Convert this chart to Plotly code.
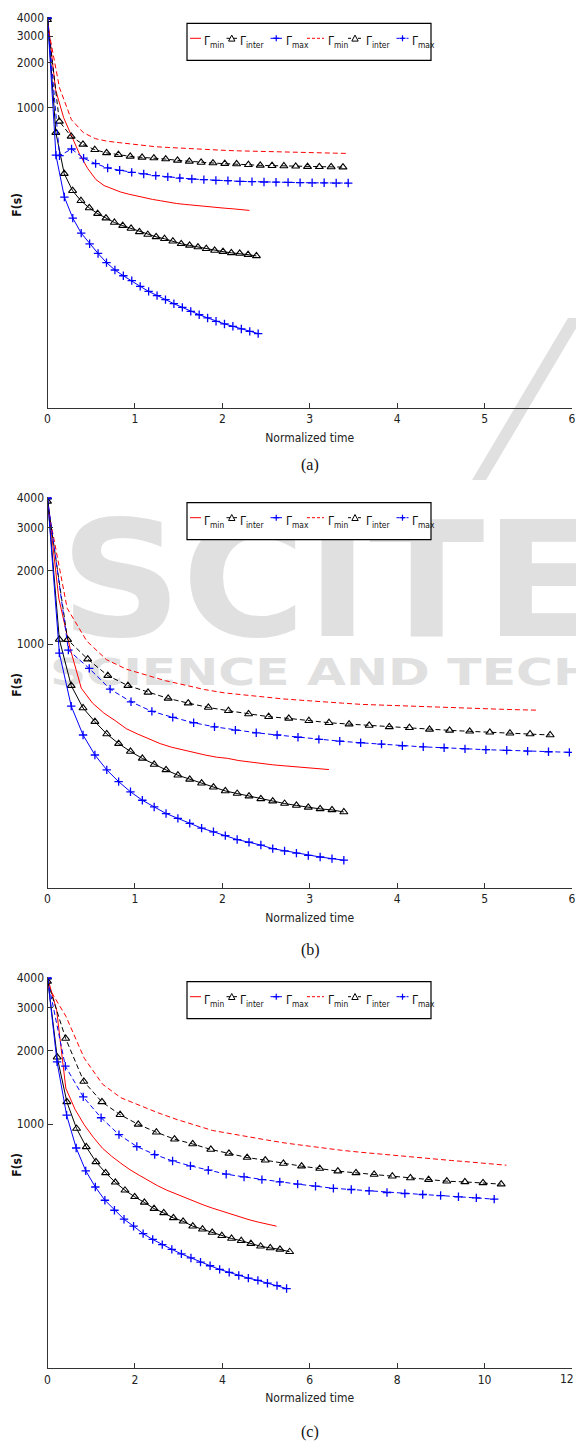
import base64
import numpy as np
import plotly.graph_objects as go

W, H = 576, 1447
N_POINTS = 26

# ---------------- data ----------------
# order of series in every panel: solid Γmin, solid Γinter, solid Γmax, dashed Γmin, dashed Γinter, dashed Γmax
a_min_solid = [4000, 1318, 858, 641, 486, 392, 332, 303, 287, 275, 266, 258, 252, 245, 240, 234, 230, 227, 224, 221, 218, 216, 214, 212, 209, 207]
a_inter_solid = [4000, 682, 364, 280, 240, 215, 197, 184, 172, 164, 157, 149, 143, 138, 134, 129, 124, 121, 118, 115, 112, 110, 108, 107, 105, 103]
a_max_solid = [4000, 483, 254, 184, 146, 124, 107, 93, 83, 76, 70.5, 64.6, 59.8, 56, 52.7, 49.5, 46.8, 44, 41.8, 39.8, 37.8, 36.3, 35, 33.6, 32.4, 31.3]
a_min_dash = [3600, 1359, 832, 682, 622, 598, 585, 571, 563, 550, 544, 538, 532, 527, 523, 519, 516, 513, 510, 507, 505, 503, 501, 500, 498, 496]
a_inter_dash = [3850, 811, 644, 570, 525, 500, 487, 474, 467, 462, 455, 446, 439, 432, 428, 424, 422, 417, 413, 411, 409, 407, 405, 404, 403, 402]
a_max_dash = [3950, 479, 531, 461, 424, 397, 383, 371, 362, 353, 346, 340, 335, 332, 328, 327, 323, 322, 320, 319, 318, 317, 316, 316, 315, 315]
a_end = [2.31, 2.39, 2.41, 3.42, 3.38, 3.44]

b_min_solid = [4000, 1543, 963, 660, 573, 522, 486, 450, 428, 408, 391, 378, 368, 358, 351, 344, 340, 333, 328, 324, 320, 317, 314, 311, 309, 306]
b_inter_solid = [4000, 1045, 676, 547, 481, 428, 391, 363, 340, 321, 305, 290, 279, 269, 259, 250, 244, 238, 232, 227, 222, 218, 214, 211, 209, 205]
b_max_solid = [4000, 919, 557, 424, 351, 305, 273, 248, 229, 215, 202, 193, 184, 176, 170, 164, 158, 154, 150, 145, 142, 139, 136, 134, 132, 130]
b_min_dash = [3700, 1404, 1029, 864, 790, 746, 708, 679, 651, 631, 618, 606, 596, 588, 579, 573, 566, 562, 558, 553, 549, 546, 543, 541, 538, 536]
b_inter_dash = [3850, 1043, 868, 743, 676, 634, 599, 573, 550, 533, 517, 504, 496, 485, 476, 470, 464, 458, 454, 447, 443, 439, 435, 431, 428, 424]
b_max_dash = [3950, 945, 795, 654, 580, 530, 501, 476, 458, 444, 433, 424, 415, 407, 400, 394, 389, 383, 379, 376, 372, 369, 367, 364, 362, 360]
b_end = [3.22, 3.39, 3.39, 5.62, 5.75, 5.97]

c_min_solid = [4000, 2932, 1404, 1152, 995, 884, 797, 739, 692, 651, 618, 587, 560, 537, 518, 500, 484, 467, 453, 440, 428, 417, 406, 397, 389, 382]
c_inter_solid = [4000, 1882, 1234, 960, 807, 701, 632, 578, 536, 504, 478, 451, 433, 413, 400, 382, 371, 360, 349, 340, 333, 324, 316, 311, 307, 300]
c_max_solid = [4000, 1800, 1089, 799, 644, 553, 488, 444, 408, 382, 356, 337, 321, 307, 294, 283, 272, 263, 254, 247, 240, 234, 229, 223, 218, 212]
c_min_dash = [3700, 2771, 1865, 1458, 1283, 1196, 1115, 1048, 995, 942, 914, 885, 860, 836, 816, 799, 782, 768, 755, 743, 732, 722, 710, 700, 689, 679]
c_inter_dash = [3850, 2245, 1496, 1234, 1094, 998, 927, 868, 830, 788, 759, 730, 712, 690, 673, 658, 642, 632, 622, 612, 602, 593, 584, 580, 575, 568]
c_max_dash = [3950, 1729, 1294, 1063, 906, 810, 751, 707, 675, 648, 624, 608, 593, 580, 568, 557, 546, 540, 533, 525, 520, 515, 510, 504, 499, 493]
c_end = [5.24, 5.54, 5.47, 10.5, 10.38, 10.22]

x_max = [6, 6, 12]
x_dtick = [1, 1, 2]
y_ticks = [1000, 2000, 3000, 4000]
y_min = [10, 100, 100]
y_top = 4000
legend_names = ["min", "inter", "max", "min", "inter", "max"]
captions = ["(a)", "(b)", "(c)"]
x_title = "Normalized time"
y_title = "F(s)"

panels = [
    [a_min_solid, a_inter_solid, a_max_solid, a_min_dash, a_inter_dash, a_max_dash],
    [b_min_solid, b_inter_solid, b_max_solid, b_min_dash, b_inter_dash, b_max_dash],
    [c_min_solid, c_inter_solid, c_max_solid, c_min_dash, c_inter_dash, c_max_dash],
]
ends = [a_end, b_end, c_end]

# ---------------- styles ----------------
RED, BLACK, BLUE = "#ff0000", "#000000", "#0000ff"
DASH = "5px,3px"
styles = [
    dict(color=RED, dash="solid", symbol=None),
    dict(color=BLACK, dash="solid", symbol="triangle-up-open"),
    dict(color=BLUE, dash="solid", symbol="cross-thin-open"),
    dict(color=RED, dash=DASH, symbol=None),
    dict(color=BLACK, dash=DASH, symbol="triangle-up-open"),
    dict(color=BLUE, dash=DASH, symbol="cross-thin-open"),
]

# pixel layout of the three panels
x_left, x_right = 47.5, 572
panel_px = [(17.3, 408.0), (497.3, 888.0), (977.3, 1368.2)]
legend_top = [23.3, 502.7, 981.7]
caption_y = [465, 950, 1432]

def px(x):
    return x / W

def py(y):
    return 1 - y / H

FAMILY = "Liberation Sans Narrow, DejaVu Sans Condensed, Arial Narrow, sans-serif"
TICKFONT = dict(family=FAMILY, size=12, color="#222")

# light grey publisher watermark that sits behind the middle panel
WM = "#e0e0e0"
watermark_svg = (
    '<svg xmlns="http://www.w3.org/2000/svg" width="576" height="1447" viewBox="0 0 576 1447">'
    '<polygon points="568,318 582,318 486,480 472,480" fill="{c}"/>'
    '<text x="60" y="636" font-family="DejaVu Sans" font-weight="bold" font-size="160" fill="{c}" '
    'textLength="540" lengthAdjust="spacingAndGlyphs">SCITE</text>'
    '<text x="50" y="685" font-family="DejaVu Sans" font-weight="bold" font-size="38" fill="{c}" '
    'textLength="545" lengthAdjust="spacingAndGlyphs">SCIENCE AND TECH</text>'
    '</svg>'
).format(c=WM)
watermark_src = "data:image/svg+xml;base64," + base64.b64encode(watermark_svg.encode("utf-8")).decode("ascii")

fig = go.Figure()
layout = dict(
    width=W, height=H, margin=dict(l=0, r=0, t=0, b=0),
    paper_bgcolor="white", plot_bgcolor="rgba(0,0,0,0)", showlegend=False,
    images=[dict(source=watermark_src, xref="paper", yref="paper", x=0, y=1,
                 sizex=1, sizey=1, sizing="stretch", xanchor="left", yanchor="top",
                 layer="below", opacity=1)],
)
shapes, annotations = [], []

for p in range(3):
    sfx = "" if p == 0 else str(p + 1)
    xa, ya = "x" + sfx, "y" + sfx
    for i, vals in enumerate(panels[p]):
        st = styles[i]
        xs = np.linspace(0, ends[p][i], N_POINTS)
        mode = "lines+markers" if st["symbol"] else "lines"
        tr = dict(x=xs, y=vals, mode=mode, xaxis=xa, yaxis=ya,
                  line=dict(color=st["color"], width=1, dash=st["dash"]),
                  hoverinfo="skip")
        if st["symbol"]:
            tri = "triangle" in st["symbol"]
            tr["marker"] = dict(symbol=st["symbol"], size=7 if tri else 6,
                                color=st["color"], line=dict(color=st["color"], width=1.1 if tri else 1.3))
        fig.add_trace(go.Scatter(**tr))

    top, bot = panel_px[p]
    tickvals = list(range(0, x_max[p] + 1, x_dtick[p]))
    ticktext = [str(v) for v in tickvals]
    last_label = None
    if x_max[p] >= 10:
        # the two-digit end label is right-aligned so that it stays inside the page
        last_label = ticktext[-1]
        ticktext[-1] = ""
    layout["xaxis" + sfx] = dict(
        domain=[px(x_left), px(x_right)], anchor=ya, range=[0, x_max[p]],
        tickvals=tickvals, ticktext=ticktext, ticks="inside", ticklen=5, tickcolor="#333",
        showline=True, linecolor="#333", linewidth=1, showgrid=False, zeroline=False,
        tickfont=TICKFONT, automargin=False, ticklabeloverflow="allow",
        title=dict(text=x_title, font=TICKFONT, standoff=8),
    )
    if last_label:
        annotations.append(dict(xref=xa, yref="paper", x=x_max[p], y=py(bot + 11),
                                xanchor="right", yanchor="middle", xshift=4, showarrow=False,
                                text=last_label, font=TICKFONT))
    layout["yaxis" + sfx] = dict(
        domain=[py(bot), py(top)], anchor=xa, type="log",
        range=[np.log10(y_min[p]), np.log10(y_top)],
        tickvals=y_ticks, ticktext=[str(v) for v in y_ticks],
        ticks="inside", ticklen=5, tickcolor="#333",
        showline=True, linecolor="#333", linewidth=1, showgrid=False, zeroline=False,
        tickfont=TICKFONT, automargin=False, ticklabeloverflow="allow",
    )
    # y-axis title placed beside the tick labels
    annotations.append(dict(xref="paper", yref="paper", x=px(17), y=py((top + bot) / 2 - 8),
                            xanchor="center", yanchor="middle", showarrow=False, textangle=-90,
                            text="<b>" + y_title + "</b>",
                            font=dict(family=FAMILY, size=12, color="#111")))

    # custom legend box
    lt = legend_top[p]
    shapes.append(dict(type="rect", xref="paper", yref="paper",
                       x0=px(187), x1=px(431), y0=py(lt + 37), y1=py(lt),
                       line=dict(color="black", width=1.2), fillcolor="white", layer="above"))
    line_x = [(190, 201), (226.5, 237), (270.5, 282), (307, 324), (348, 362), (396.5, 408.5)]
    label_x = [201.5, 238, 284, 326, 364, 410]
    ly = lt + 15
    for i, st in enumerate(styles):
        x0, x1 = line_x[i]
        shapes.append(dict(type="line", xref="paper", yref="paper",
                           x0=px(x0), x1=px(x1), y0=py(ly), y1=py(ly),
                           line=dict(color=st["color"], width=1,
                                     dash="solid" if st["dash"] == "solid" else "3px,2px"),
                           layer="above"))
        cx = (x0 + x1) / 2
        if st["symbol"] and "triangle" in st["symbol"]:
            path = "M{},{} L{},{} L{},{} Z".format(px(cx - 3.2), py(ly + 2.8), px(cx + 3.2), py(ly + 2.8), px(cx), py(ly - 3.2))
            shapes.append(dict(type="path", xref="paper", yref="paper", path=path,
                               line=dict(color=st["color"], width=1), fillcolor="white", layer="above"))
        elif st["symbol"]:
            shapes.append(dict(type="line", xref="paper", yref="paper",
                               x0=px(cx - 3), x1=px(cx + 3), y0=py(ly), y1=py(ly),
                               line=dict(color=st["color"], width=1.2), layer="above"))
            shapes.append(dict(type="line", xref="paper", yref="paper",
                               x0=px(cx), x1=px(cx), y0=py(ly - 3), y1=py(ly + 3),
                               line=dict(color=st["color"], width=1.2), layer="above"))
        annotations.append(dict(xref="paper", yref="paper", x=px(label_x[i]), y=py(lt + 19),
                                xanchor="left", yanchor="middle", showarrow=False,
                                text="Γ<sub>" + legend_names[i] + "</sub>",
                                font=dict(family=FAMILY, size=12, color="#111")))
    annotations.append(dict(xref="paper", yref="paper", x=px(310), y=py(caption_y[p]),
                            xanchor="center", yanchor="middle", showarrow=False,
                            text=captions[p],
                            font=dict(family="Liberation Serif, Times New Roman, serif", size=16, color="#111")))

layout["shapes"] = shapes
layout["annotations"] = annotations
fig.update_layout(**layout)
fig.write_html("out.html")
